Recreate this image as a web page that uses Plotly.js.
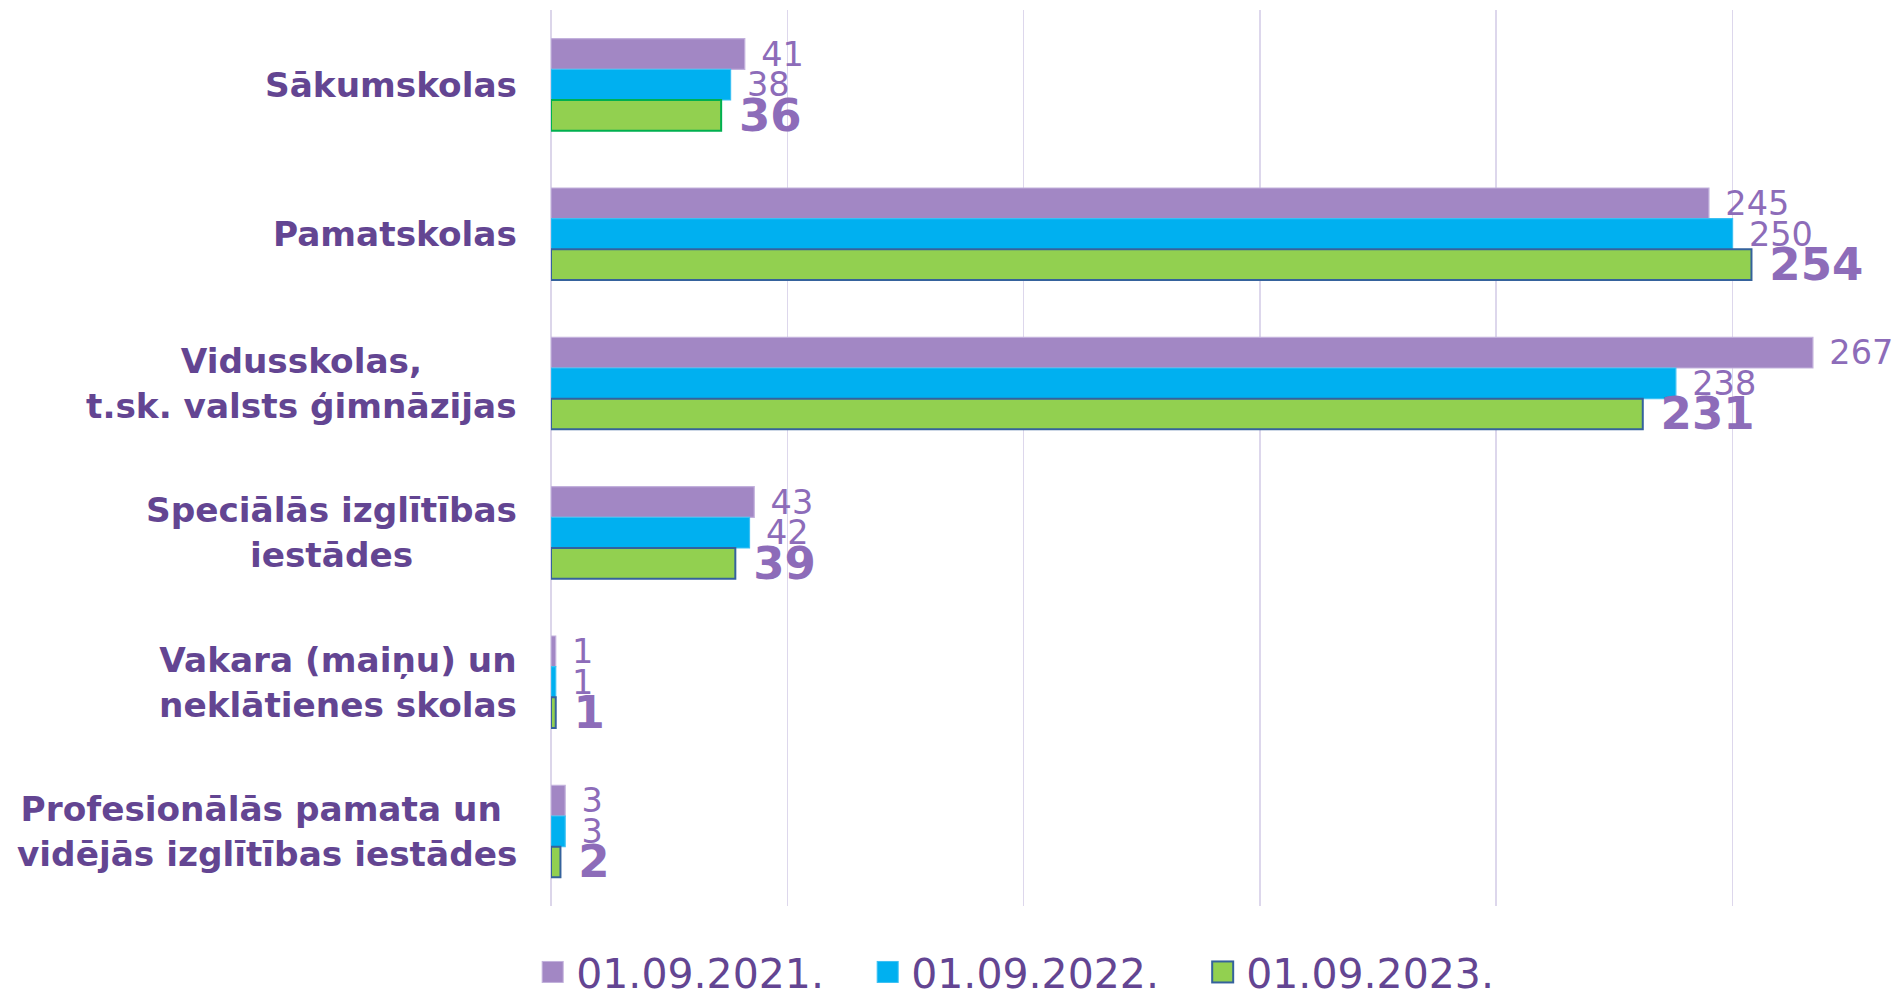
<!DOCTYPE html>
<html>
<head>
<meta charset="utf-8">
<script src="https://cdn.plot.ly/plotly-3.0.1.min.js"></script>
<style>
html,body{margin:0;padding:0;background:#fff;}
#chart{width:1898px;height:991px;}
</style>
</head>
<body>
<div id="chart"></div>
<script>
// ---- data ----
var categories = [
  "Sākumskolas",
  "Pamatskolas",
  "Vidusskolas,<br>t.sk. valsts ģimnāzijas",
  "Speciālās izglītības<br>iestādes",
  "Vakara (maiņu) un<br>neklātienes skolas",
  "Profesionālās pamata un <br>vidējās izglītības iestādes"
];
var seriesNames = ["01.09.2021.", "01.09.2022.", "01.09.2023."];
var values2021 = [41, 245, 267, 43, 1, 3];
var values2022 = [38, 250, 238, 42, 1, 3];
var values2023 = [36, 254, 231, 39, 1, 2];

// ---- styles ----
var FONT = "DejaVu Sans, Verdana, sans-serif";
var LABEL_COLOR = "#8d6cb9";
var CAT_COLOR = "#634592";
var seriesFill = ["#a287c4", "#00b0f0", "#92d050"];
var legendStroke = ["#c2b1dc", "#3cc0f3", "#35629c"];
var greenOutline = ["#00b050", "#35629c", "#35629c", "#35629c", "#35629c", "#35629c"];

var traces = [
  {
    type: "bar", orientation: "h", name: seriesNames[0],
    y: categories, x: values2021,
    marker: {color: seriesFill[0], line: {color: "#c2b1dc", width: 1.2}},
    text: values2021, texttemplate: "\u2009\u2009%{x}", textposition: "outside",
    textfont: {family: FONT, size: 33.5, color: LABEL_COLOR},
    constraintext: "none", cliponaxis: false, hoverinfo: "skip"
  },
  {
    type: "bar", orientation: "h", name: seriesNames[1],
    y: categories, x: values2022,
    marker: {color: seriesFill[1], line: {color: "#3cc0f3", width: 1.2}},
    text: values2022, texttemplate: "\u2009\u2009%{x}", textposition: "outside",
    textfont: {family: FONT, size: 33.5, color: LABEL_COLOR},
    constraintext: "none", cliponaxis: false, hoverinfo: "skip"
  },
  {
    type: "bar", orientation: "h", name: seriesNames[2],
    y: categories, x: values2023,
    marker: {color: seriesFill[2], line: {color: greenOutline, width: 2}},
    text: values2023, texttemplate: "\u2004%{x}", textposition: "outside",
    textfont: {family: FONT, size: 45, color: LABEL_COLOR, weight: "bold"},
    constraintext: "none", cliponaxis: false, hoverinfo: "skip"
  }
];

var annotations = categories.map(function (c) {
  return {
    x: 0, xref: "paper", xanchor: "right", xshift: -32,
    y: c, yref: "y", yanchor: "middle",
    text: "<b>" + c + "</b>", align: "center", showarrow: false,
    font: {family: FONT, size: 34.3, color: CAT_COLOR}
  };
});

var layout = {
  width: 1898, height: 991,
  margin: {l: 551, r: 0, t: 10, b: 85, autoexpand: false},
  paper_bgcolor: "#ffffff", plot_bgcolor: "#ffffff",
  barmode: "group", bargap: 0.384, bargroupgap: 0,
  showlegend: true,
  legend: {
    orientation: "h", x: -0.011, xanchor: "left", y: -0.074, yanchor: "middle",
    font: {family: FONT, size: 41, color: CAT_COLOR},
    entrywidth: 290, entrywidthmode: "pixels",
    traceorder: "normal", bgcolor: "rgba(0,0,0,0)"
  },
  xaxis: {
    range: [0, 285], dtick: 50, tick0: 0,
    showgrid: true, gridcolor: "#ddd7ec", gridwidth: 1.6,
    zeroline: true, zerolinecolor: "#dcd6ea", zerolinewidth: 1.6,
    showticklabels: false, showline: false, ticks: "", fixedrange: true
  },
  yaxis: {
    type: "category", autorange: "reversed",
    showticklabels: false, showgrid: false, zeroline: false, showline: false,
    ticks: "", fixedrange: true
  },
  annotations: annotations
};

Plotly.newPlot("chart", traces, layout, {displayModeBar: false, staticPlot: true}).then(function () {
  // replace the small default legend swatches by larger squares, as in the reference
  var NS = "http://www.w3.org/2000/svg";
  var items = document.querySelectorAll("#chart .legend g.traces");
  items.forEach(function (g, i) {
    var pts = g.querySelector(".legendpoints");
    if (pts) pts.style.display = "none";
    var txt = g.querySelector("text.legendtext");
    var tx = txt ? parseFloat(txt.getAttribute("x")) || 40 : 40;
    var r = document.createElementNS(NS, "rect");
    r.setAttribute("x", tx - 34);
    r.setAttribute("y", -10.5);
    r.setAttribute("width", 21);
    r.setAttribute("height", 21);
    r.setAttribute("fill", seriesFill[i % 3]);
    r.setAttribute("stroke", legendStroke[i % 3]);
    r.setAttribute("stroke-width", i % 3 === 2 ? 2 : 1);
    g.appendChild(r);
  });
});
</script>
</body>
</html>
